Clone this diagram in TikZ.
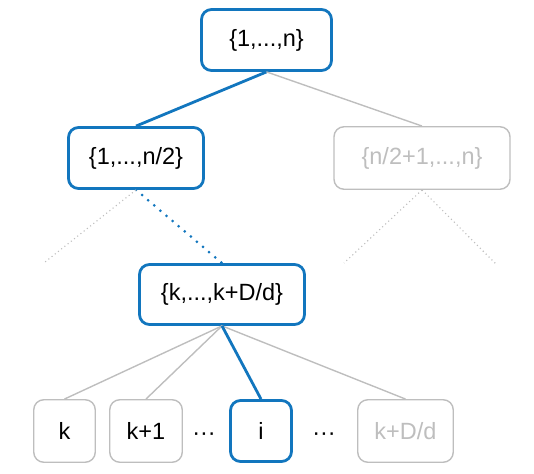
\documentclass[tikz,border=0pt]{standalone}
\usepackage{fontspec}
\setmainfont{Liberation Sans}
\definecolor{hlblue}{RGB}{18,118,190}
\definecolor{lgray}{RGB}{190,190,190}
\begin{document}
\begin{tikzpicture}[x=1pt,y=-1pt,
  box/.style={draw, rounded corners=10pt, inner sep=0pt, font=\fontsize{23.5}{28}\selectfont},
  bluebox/.style={box, draw=hlblue, line width=2.8pt, text=black},
  graybox/.style={box, draw=lgray, line width=1.4pt},
  blackgray/.style={graybox, text=black},
  fadegray/.style={graybox, text=lgray},
  blueline/.style={draw=hlblue, line width=2.8pt},
  grayline/.style={draw=lgray, line width=1.4pt},
  bluedots/.style={draw=hlblue, line width=3pt, line cap=round, dash pattern=on 0pt off 8pt},
  graydots/.style={draw=lgray, line width=1.1pt, dash pattern=on 1.1pt off 3pt},
  dotstext/.style={inner sep=0pt, font=\fontsize{23.5}{28}\selectfont}
]
\useasboundingbox (0,0) rectangle (534,473);
\node[bluebox, minimum width=130pt, minimum height=61pt] (root) at (266.5,40) {\{1,...,n\}};
\node[bluebox, minimum width=135pt, minimum height=61pt] (left) at (136,158) {\{1,...,n/2\}};
\node[fadegray, minimum width=176pt, minimum height=62.5pt] (right) at (422,158) {\{n/2+1,...,n\}};
\node[bluebox, minimum width=165pt, minimum height=60pt] (mid) at (222,294.5) {\{k,...,k+D/d\}};
\node[blackgray, minimum width=61.5pt, minimum height=62.5pt] (bk) at (64.5,431) {k};
\node[blackgray, minimum width=72.5pt, minimum height=62.5pt] (bk1) at (146,431) {k+1};
\node[bluebox, minimum width=61pt, minimum height=61pt] (bi) at (261,431) {i};
\node[fadegray, minimum width=95.5pt, minimum height=62.5pt] (bkd) at (405.5,431) {k+D/d};
\node[dotstext] (e1) at (204,437) {···};
\node[dotstext] (e2) at (324,437) {···};
\coordinate (ll) at (45,262);
\coordinate (rl) at (344,263);
\coordinate (rr) at (497,265);
\draw[blueline] (root.south) -- (left.north);
\draw[grayline] (root.south) -- (right.north);
\draw[bluedots] (left.south) -- (mid.north);
\draw[graydots] (left.south) -- (ll);
\draw[graydots] (right.south) -- (rl);
\draw[graydots] (right.south) -- (rr);
\draw[grayline] (mid.south) -- (bk.north);
\draw[grayline] (mid.south) -- (bk1.north);
\draw[grayline] (mid.south) -- (bkd.north);
\draw[blueline] (mid.south) -- (bi.north);
\end{tikzpicture}
\end{document}
